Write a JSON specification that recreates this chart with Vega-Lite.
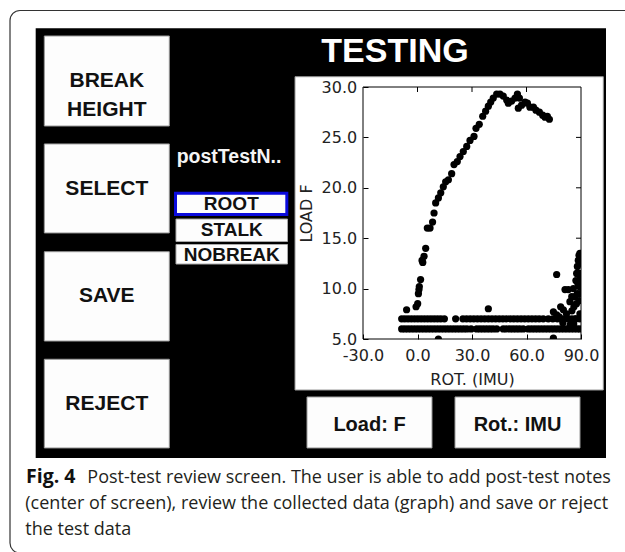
{
  "$schema": "https://vega.github.io/schema/vega-lite/v6.json",
  "width": 218,
  "height": 252,
  "autosize": {"type": "none"},
  "padding": {"left": 363, "top": 87, "right": 44, "bottom": 213},
  "background": "white",
  "config": {"view": {"stroke": null}, "axis": {"grid": false}},
  "data": {"values": [{}]},
  "layer": [
    {"mark": {"type": "rect", "cornerRadius": 10, "fillOpacity": 0, "stroke": "#333", "strokeWidth": 1.2},
     "encoding": {"x": {"datum": -224.31}, "x2": {"datum": 122.48}, "y": {"datum": 37.59}, "y2": {"datum": -16.23}}},
    {"mark": {"type": "rect", "fill": "#000"},
     "encoding": {"x": {"datum": -210.17}, "x2": {"datum": 103.76}, "y": {"datum": 35.82}, "y2": {"datum": -6.81}}},
    {"mark": {"type": "rect", "fill": "#fdfdfd", "stroke": "#999", "strokeWidth": 1},
     "encoding": {"x": {"datum": -205.43}, "x2": {"datum": -136.62}, "y": {"datum": 35.06}, "y2": {"datum": 26.13}}},
    {"mark": {"type": "rect", "fill": "#fdfdfd", "stroke": "#999", "strokeWidth": 1},
     "encoding": {"x": {"datum": -205.43}, "x2": {"datum": -136.62}, "y": {"datum": 24.35}, "y2": {"datum": 15.52}}},
    {"mark": {"type": "rect", "fill": "#fdfdfd", "stroke": "#999", "strokeWidth": 1},
     "encoding": {"x": {"datum": -205.43}, "x2": {"datum": -136.62}, "y": {"datum": 13.66}, "y2": {"datum": 4.80}}},
    {"mark": {"type": "rect", "fill": "#fdfdfd", "stroke": "#999", "strokeWidth": 1},
     "encoding": {"x": {"datum": -205.43}, "x2": {"datum": -136.62}, "y": {"datum": 2.99}, "y2": {"datum": -5.81}}},
    {"mark": {"type": "text", "text": ["BREAK", "HEIGHT"], "lineHeight": 29, "font": "Liberation Sans", "fontWeight": "bold", "fontSize": 21, "fill": "#111", "align": "center", "baseline": "middle"},
     "encoding": {"x": {"datum": -171.03}, "y": {"datum": 30.60}}},
    {"mark": {"type": "text", "text": "SELECT", "font": "Liberation Sans", "fontWeight": "bold", "fontSize": 21, "fill": "#111", "align": "center", "baseline": "middle"},
     "encoding": {"x": {"datum": -171.03}, "y": {"datum": 19.93}}},
    {"mark": {"type": "text", "text": "SAVE", "font": "Liberation Sans", "fontWeight": "bold", "fontSize": 21, "fill": "#111", "align": "center", "baseline": "middle"},
     "encoding": {"x": {"datum": -171.03}, "y": {"datum": 9.24}}},
    {"mark": {"type": "text", "text": "REJECT", "font": "Liberation Sans", "fontWeight": "bold", "fontSize": 21, "fill": "#111", "align": "center", "baseline": "middle"},
     "encoding": {"x": {"datum": -171.03}, "y": {"datum": -1.42}}},
    {"mark": {"type": "text", "text": "postTestN..", "font": "Liberation Sans", "fontWeight": "bold", "fontSize": 19.5, "fill": "#f4f4f4", "align": "left", "baseline": "alphabetic"},
     "encoding": {"x": {"datum": -132.55}, "y": {"datum": 22.43}}},
    {"mark": {"type": "rect", "fill": "#fdfdfd", "stroke": "#0a0adc", "strokeWidth": 3},
     "encoding": {"x": {"datum": -133.21}, "x2": {"datum": -71.94}, "y": {"datum": 19.46}, "y2": {"datum": 17.35}}},
    {"mark": {"type": "rect", "fill": "#fdfdfd", "stroke": "#aaa", "strokeWidth": 1},
     "encoding": {"x": {"datum": -132.94}, "x2": {"datum": -71.56}, "y": {"datum": 16.90}, "y2": {"datum": 14.67}}},
    {"mark": {"type": "rect", "fill": "#fdfdfd", "stroke": "#aaa", "strokeWidth": 1},
     "encoding": {"x": {"datum": -132.94}, "x2": {"datum": -71.56}, "y": {"datum": 14.375}, "y2": {"datum": 12.44}}},
    {"mark": {"type": "text", "text": "ROOT", "font": "Liberation Sans", "fontWeight": "bold", "fontSize": 19, "fill": "#111", "align": "center", "baseline": "middle"},
     "encoding": {"x": {"datum": -102.5}, "y": {"datum": 18.41}}},
    {"mark": {"type": "text", "text": "STALK", "font": "Liberation Sans", "fontWeight": "bold", "fontSize": 19, "fill": "#111", "align": "center", "baseline": "middle"},
     "encoding": {"x": {"datum": -102.25}, "y": {"datum": 15.81}}},
    {"mark": {"type": "text", "text": "NOBREAK", "font": "Liberation Sans", "fontWeight": "bold", "fontSize": 19, "fill": "#111", "align": "center", "baseline": "middle"},
     "encoding": {"x": {"datum": -102.25}, "y": {"datum": 13.33}}},
    {"mark": {"type": "text", "text": "TESTING", "font": "Liberation Sans", "fontWeight": "bold", "fontSize": 34, "fill": "#ffffff", "align": "center", "baseline": "alphabetic"},
     "encoding": {"x": {"datum": -12.39}, "y": {"datum": 32.51}}},
    {"mark": {"type": "rect", "fill": "#ffffff", "stroke": "#999", "strokeWidth": 1},
     "encoding": {"x": {"datum": -67.43}, "x2": {"datum": 102.28}, "y": {"datum": 31.02}, "y2": {"datum": -0.06}}},
    {"data": {"values": [
      {"rot": -6.0, "load": 7.9}, {"rot": -0.8, "load": 8.2}, {"rot": 0.1, "load": 8.5}, {"rot": 0.5, "load": 9.5},
      {"rot": 0.8, "load": 9.9}, {"rot": 1.0, "load": 10.2}, {"rot": 1.7, "load": 10.9}, {"rot": 2.5, "load": 12.8},
      {"rot": 2.9, "load": 12.6}, {"rot": 3.6, "load": 13.2}, {"rot": 4.5, "load": 14.0}, {"rot": 5.4, "load": 16.0},
      {"rot": 6.9, "load": 16.0}, {"rot": 8.3, "load": 16.6}, {"rot": 9.1, "load": 17.5}, {"rot": 10.0, "load": 18.5},
      {"rot": 11.5, "load": 19.0}, {"rot": 12.8, "load": 19.5}, {"rot": 14.2, "load": 20.1}, {"rot": 15.5, "load": 20.6},
      {"rot": 17.0, "load": 20.8}, {"rot": 18.8, "load": 21.4}, {"rot": 20.1, "load": 22.3}, {"rot": 21.9, "load": 22.6},
      {"rot": 23.4, "load": 23.1}, {"rot": 25.2, "load": 23.6}, {"rot": 27.1, "load": 24.1}, {"rot": 28.9, "load": 24.7},
      {"rot": 31.1, "load": 25.1}, {"rot": 32.2, "load": 25.9}, {"rot": 34.0, "load": 26.3}, {"rot": 35.9, "load": 27.1},
      {"rot": 37.5, "load": 27.6}, {"rot": 39.0, "load": 28.1}, {"rot": 40.3, "load": 28.5}, {"rot": 41.7, "load": 28.9},
      {"rot": 43.6, "load": 29.3}, {"rot": 45.4, "load": 29.3}, {"rot": 47.2, "load": 29.1}, {"rot": 49.1, "load": 28.7},
      {"rot": 50.0, "load": 28.4}, {"rot": 51.8, "load": 28.6}, {"rot": 53.7, "load": 28.9}, {"rot": 55.0, "load": 29.3},
      {"rot": 56.1, "load": 28.9}, {"rot": 55.5, "load": 27.9}, {"rot": 57.3, "load": 28.2}, {"rot": 59.2, "load": 28.5},
      {"rot": 60.5, "load": 28.4}, {"rot": 61.9, "load": 28.0}, {"rot": 63.8, "load": 28.0}, {"rot": 65.2, "load": 27.7},
      {"rot": 67.1, "load": 27.5}, {"rot": 68.9, "load": 27.2}, {"rot": 70.2, "load": 27.0}, {"rot": 71.5, "load": 27.1},
      {"rot": 72.6, "load": 26.8},
      {"rot": -8.7, "load": 7}, {"rot": -7.0, "load": 7}, {"rot": -5.2, "load": 7}, {"rot": -3.4, "load": 7},
      {"rot": -1.6, "load": 7}, {"rot": 0.2, "load": 7}, {"rot": 2.0, "load": 7}, {"rot": 3.8, "load": 7},
      {"rot": 5.6, "load": 7}, {"rot": 7.4, "load": 7}, {"rot": 9.2, "load": 7}, {"rot": 11.0, "load": 7},
      {"rot": 12.8, "load": 7}, {"rot": 14.8, "load": 7}, {"rot": 21.0, "load": 7}, {"rot": 25.0, "load": 7},
      {"rot": 27.0, "load": 7}, {"rot": 29.0, "load": 7}, {"rot": 31.0, "load": 7}, {"rot": 33.0, "load": 7},
      {"rot": 35.0, "load": 7}, {"rot": 37.0, "load": 7}, {"rot": 39.0, "load": 7}, {"rot": 41.0, "load": 7},
      {"rot": 43.0, "load": 7}, {"rot": 45.0, "load": 7}, {"rot": 47.0, "load": 7}, {"rot": 49.0, "load": 7},
      {"rot": 51.0, "load": 7}, {"rot": 53.0, "load": 7}, {"rot": 55.0, "load": 7}, {"rot": 57.0, "load": 7},
      {"rot": 59.0, "load": 7}, {"rot": 61.0, "load": 7}, {"rot": 63.0, "load": 7}, {"rot": 65.0, "load": 7},
      {"rot": 67.0, "load": 7}, {"rot": 69.2, "load": 7}, {"rot": 72.0, "load": 7}, {"rot": 74.5, "load": 7},
      {"rot": 77.0, "load": 7}, {"rot": 79.0, "load": 7}, {"rot": 81.0, "load": 7}, {"rot": 83.0, "load": 7},
      {"rot": 85.0, "load": 7}, {"rot": 87.0, "load": 7}, {"rot": 89.3, "load": 7},
      {"rot": -8.7, "load": 6}, {"rot": -7.0, "load": 6}, {"rot": -5.2, "load": 6}, {"rot": -3.4, "load": 6},
      {"rot": -1.6, "load": 6}, {"rot": 0.2, "load": 6}, {"rot": 2.0, "load": 6}, {"rot": 3.8, "load": 6},
      {"rot": 5.6, "load": 6}, {"rot": 7.4, "load": 6}, {"rot": 9.2, "load": 6}, {"rot": 11.0, "load": 6},
      {"rot": 12.8, "load": 6}, {"rot": 14.6, "load": 6}, {"rot": 16.4, "load": 6}, {"rot": 18.2, "load": 6},
      {"rot": 20.0, "load": 6}, {"rot": 21.8, "load": 6}, {"rot": 23.6, "load": 6}, {"rot": 25.4, "load": 6},
      {"rot": 27.2, "load": 6}, {"rot": 29.5, "load": 6}, {"rot": 32.6, "load": 6}, {"rot": 34.4, "load": 6},
      {"rot": 36.2, "load": 6}, {"rot": 38.0, "load": 6}, {"rot": 39.8, "load": 6}, {"rot": 41.6, "load": 6},
      {"rot": 43.6, "load": 6}, {"rot": 47.2, "load": 6}, {"rot": 49.0, "load": 6}, {"rot": 50.8, "load": 6},
      {"rot": 52.6, "load": 6}, {"rot": 54.4, "load": 6}, {"rot": 56.2, "load": 6}, {"rot": 58.2, "load": 6},
      {"rot": 61.0, "load": 6}, {"rot": 62.8, "load": 6}, {"rot": 64.6, "load": 6}, {"rot": 66.4, "load": 6},
      {"rot": 68.2, "load": 6}, {"rot": 70.0, "load": 6}, {"rot": 71.8, "load": 6}, {"rot": 73.6, "load": 6},
      {"rot": 75.4, "load": 6}, {"rot": 77.2, "load": 6}, {"rot": 79.0, "load": 6}, {"rot": 80.8, "load": 6},
      {"rot": 82.6, "load": 6}, {"rot": 84.4, "load": 6}, {"rot": 86.2, "load": 6}, {"rot": 88.0, "load": 6},
      {"rot": 89.5, "load": 6},
      {"rot": 11.5, "load": 5.0}, {"rot": 74.8, "load": 5.1}, {"rot": 39.0, "load": 8.0},
      {"rot": 74.8, "load": 7.7}, {"rot": 76.6, "load": 7.4}, {"rot": 76.6, "load": 11.4}, {"rot": 78.8, "load": 8.2},
      {"rot": 80.3, "load": 7.9}, {"rot": 81.2, "load": 9.9}, {"rot": 83.0, "load": 9.9}, {"rot": 83.9, "load": 8.7},
      {"rot": 84.9, "load": 9.2}, {"rot": 85.8, "load": 10.0}, {"rot": 86.1, "load": 8.2}, {"rot": 86.7, "load": 9.2},
      {"rot": 87.2, "load": 10.8}, {"rot": 87.6, "load": 11.5}, {"rot": 88.0, "load": 12.2}, {"rot": 88.5, "load": 12.8},
      {"rot": 88.9, "load": 13.3}, {"rot": 89.1, "load": 10.2}, {"rot": 89.1, "load": 8.8}, {"rot": 89.4, "load": 7.5},
      {"rot": 89.1, "load": 11.5}, {"rot": 89.4, "load": 13.5}, {"rot": 88.0, "load": 9.5}, {"rot": 87.1, "load": 7.0},
      {"rot": 82.0, "load": 7.5}, {"rot": 85.0, "load": 7.8}, {"rot": 87.5, "load": 8.5}, {"rot": 89.5, "load": 9.5},
      {"rot": 89.6, "load": 12.5}, {"rot": 89.5, "load": 11.0}, {"rot": 88.3, "load": 10.5}, {"rot": 86.0, "load": 6.5},
      {"rot": 84.0, "load": 6.4}, {"rot": 80.0, "load": 6.6}, {"rot": 78.0, "load": 7.2}
     ]},
     "mark": {"type": "circle", "size": 52, "color": "#000", "opacity": 1, "clip": true},
     "encoding": {
       "x": {"field": "rot", "type": "quantitative",
             "scale": {"domain": [-30, 90], "nice": false, "zero": false},
             "axis": {"values": [-30, 0, 30, 60, 90], "labelExpr": "datum.value < 0 ? '-' + format(-datum.value, '.1f') : format(datum.value, '.1f')",
                      "title": "ROT. (IMU)", "tickSize": -5, "tickColor": "#000", "labelPadding": 13, "titlePadding": 8,
                      "domain": false, "zindex": 1, "labelFlush": false, "labelOverlap": false, "labelBound": false,
                      "labelFont": "DejaVu Sans", "labelFontSize": 16, "labelColor": "#222",
                      "titleFont": "DejaVu Sans", "titleFontSize": 16, "titleFontWeight": "normal", "titleColor": "#222"}},
       "y": {"field": "load", "type": "quantitative",
             "scale": {"domain": [5, 30], "nice": false, "zero": false},
             "axis": {"values": [5, 10, 15, 20, 25, 30], "labelExpr": "format(datum.value, '.1f')",
                      "title": "LOAD F", "tickSize": -5, "tickColor": "#000", "labelPadding": 11.3, "titlePadding": 7,
                      "domain": false, "zindex": 1, "labelFlush": false, "labelOverlap": false, "labelBound": false,
                      "labelFont": "DejaVu Sans", "labelFontSize": 16, "labelColor": "#222",
                      "titleFont": "DejaVu Sans", "titleFontSize": 16, "titleFontWeight": "normal", "titleColor": "#222"}}
     }},
    {"mark": {"type": "rect", "fillOpacity": 0, "stroke": "#000", "strokeWidth": 1},
     "encoding": {"x": {"datum": -30}, "x2": {"datum": 90}, "y": {"datum": 30}, "y2": {"datum": 5}}},
    {"data": {"values": [{"tick": 0}, {"tick": 30}, {"tick": 60}]},
     "mark": {"type": "rule", "color": "#000", "strokeWidth": 1},
     "encoding": {"x": {"field": "tick", "type": "quantitative"}, "y": {"datum": 30}, "y2": {"datum": 29.504}}},
    {"data": {"values": [{"tick": 10}, {"tick": 15}, {"tick": 20}, {"tick": 25}]},
     "mark": {"type": "rule", "color": "#000", "strokeWidth": 1},
     "encoding": {"y": {"field": "tick", "type": "quantitative"}, "x": {"datum": 90}, "x2": {"datum": 87.25}}},
    {"mark": {"type": "rect", "fill": "#fdfdfd", "stroke": "#999", "strokeWidth": 1},
     "encoding": {"x": {"datum": -60.83}, "x2": {"datum": 7.98}, "y": {"datum": -0.75}, "y2": {"datum": -5.81}}},
    {"mark": {"type": "rect", "fill": "#fdfdfd", "stroke": "#999", "strokeWidth": 1},
     "encoding": {"x": {"datum": 20.64}, "x2": {"datum": 89.45}, "y": {"datum": -0.75}, "y2": {"datum": -5.81}}},
    {"mark": {"type": "text", "text": "Load: F", "font": "Liberation Sans", "fontWeight": "bold", "fontSize": 20, "fill": "#111", "align": "center", "baseline": "middle"},
     "encoding": {"x": {"datum": -26.42}, "y": {"datum": -3.53}}},
    {"mark": {"type": "text", "text": "Rot.: IMU", "font": "Liberation Sans", "fontWeight": "bold", "fontSize": 20, "fill": "#111", "align": "center", "baseline": "middle"},
     "encoding": {"x": {"datum": 55.05}, "y": {"datum": -3.53}}},
    {"mark": {"type": "text", "text": "Fig. 4", "font": "Open Sans", "fontWeight": "bold", "fontSize": 19.5, "fill": "#111", "align": "left", "baseline": "alphabetic"},
     "encoding": {"x": {"datum": -215.5}, "y": {"datum": -9.29}}},
    {"mark": {"type": "text", "text": "Post-test review screen. The user is able to add post-test notes", "font": "Open Sans", "fontSize": 18, "fill": "#231f20", "align": "left", "baseline": "alphabetic"},
     "encoding": {"x": {"datum": -181.76}, "y": {"datum": -9.29}}},
    {"mark": {"type": "text", "text": ["(center of screen), review the collected data (graph) and save or reject", "the test data"], "lineHeight": 26, "font": "Open Sans", "fontSize": 18, "fill": "#231f20", "align": "left", "baseline": "alphabetic"},
     "encoding": {"x": {"datum": -215.89}, "y": {"datum": -11.87}}}
  ]
}
